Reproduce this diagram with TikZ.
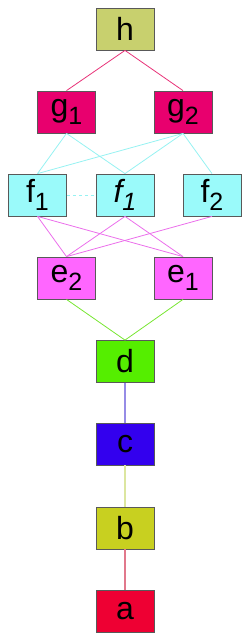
\documentclass[tikz,border=0pt]{standalone}
\usepackage{fontspec}
\setmainfont{Liberation Sans}
\definecolor{hcol}{RGB}{200,208,110}
\definecolor{gcol}{RGB}{232,0,110}
\definecolor{fcol}{RGB}{154,250,250}
\definecolor{ecol}{RGB}{255,102,255}
\definecolor{dcol}{RGB}{85,238,0}
\definecolor{ccol}{RGB}{51,0,238}
\definecolor{bcol}{RGB}{200,208,32}
\definecolor{acol}{RGB}{238,0,51}
\definecolor{hgline}{RGB}{232,50,120}
\definecolor{gfline}{RGB}{150,242,242}
\definecolor{feline}{RGB}{235,110,235}
\definecolor{edline}{RGB}{120,230,50}
\definecolor{dcline}{RGB}{150,140,230}
\definecolor{cbline}{RGB}{220,230,160}
\definecolor{baline}{RGB}{225,120,140}
\newcommand{\lowidx}[1]{\raisebox{-.24em}{\fontsize{25}{25}\selectfont #1}}

\begin{document}
\begin{tikzpicture}[x=1pt,y=-1pt,
  elem/.style={draw=black!65,line width=.8pt,minimum width=58pt,minimum height=42pt,
    inner sep=0pt,font=\fontsize{32}{36}\selectfont},
  link/.style={line width=.8pt}]
\useasboundingbox (0,0) rectangle (250,641);
\node[elem,fill=hcol] (h) at (125,29) {h};
\node[elem,fill=gcol] (g1) at (66.5,112) {g\lowidx{1}};
\node[elem,fill=gcol] (g2) at (183,112) {g\lowidx{2}};
\node[elem,fill=fcol] (f1) at (37.5,195) {f\lowidx{1}};
\node[elem,fill=fcol] (fi) at (125,195) {\itshape f\lowidx{\itshape 1}};
\node[elem,fill=fcol] (f2) at (212,195) {f\lowidx{2}};
\node[elem,fill=ecol] (e2) at (66.5,278) {e\lowidx{2}};
\node[elem,fill=ecol] (e1) at (183,278) {e\lowidx{1}};
\node[elem,fill=dcol] (d) at (125,361.5) {d};
\node[elem,fill=ccol] (c) at (125,444) {c};
\node[elem,fill=bcol] (b) at (125,528) {b};
\node[elem,fill=acol] (a) at (125,611) {a};
\foreach \u in {g1,g2} {\draw[link,hgline] (h.south)--(\u.north);}
\foreach \u/\v in {g1/f1,g1/fi,g2/f1,g2/fi,g2/f2} {\draw[link,gfline] (\u.south)--(\v.north);}
\draw[link,gfline,dashed] (f1.east)--(fi.west);
\foreach \u/\v in {f1/e2,f1/e1,fi/e2,fi/e1,f2/e2} {\draw[link,feline] (\u.south)--(\v.north);}
\foreach \u in {e2,e1} {\draw[link,edline] (\u.south)--(d.north);}
\draw[dcline,line width=1.4pt] (d)--(c);
\draw[cbline,line width=1.4pt] (c)--(b);
\draw[baline,line width=1.4pt] (b)--(a);
\end{tikzpicture}
\end{document}
